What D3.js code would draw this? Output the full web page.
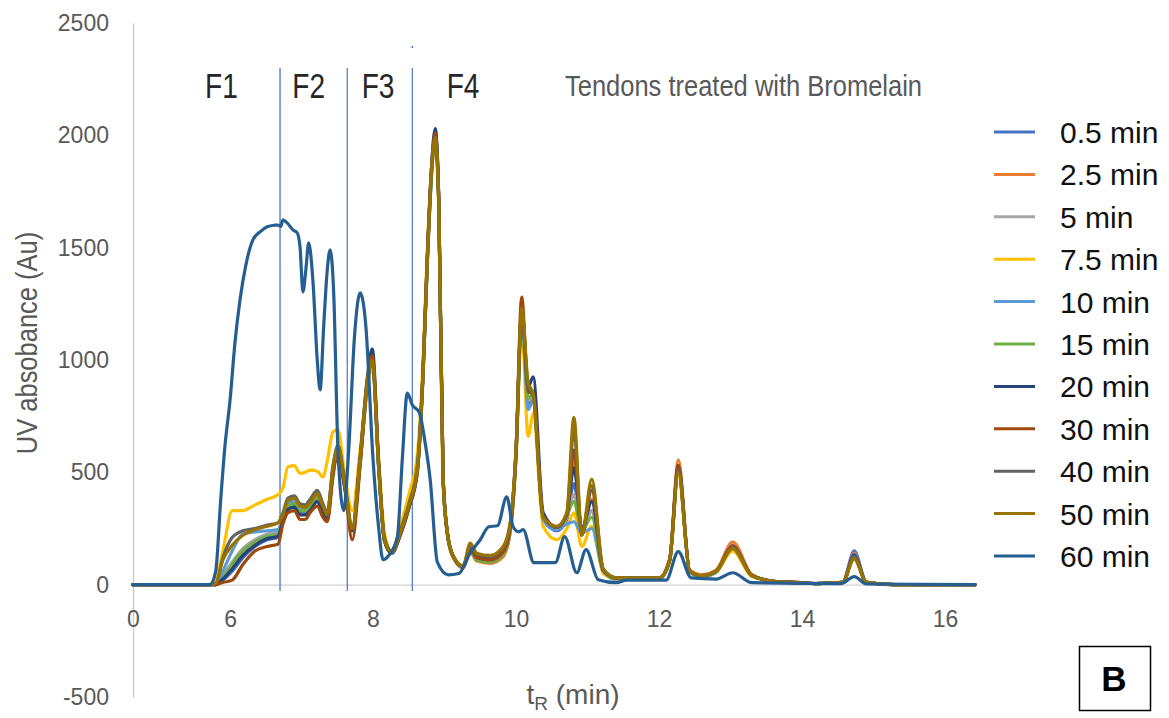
<!DOCTYPE html>
<html>
<head>
<meta charset="utf-8">
<script src="https://cdn.jsdelivr.net/npm/d3@7"></script>
<style>
    html, body { margin: 0; padding: 0; background: #fff; }
    svg { display: block; font-family: 'Liberation Sans', Arial, sans-serif; }
</style>
</head>
<body>
<svg id="chart" width="1169" height="718"></svg>
<script>
'use strict';

// retention time grid (min) shared by the 0.5 - 50 min runs
var tR = [4.64, 5.70, 5.80, 5.90, 6.03, 6.18, 6.35, 6.52, 6.67, 6.74,
    6.81, 6.90, 6.98, 7.05, 7.12, 7.22, 7.30, 7.36, 7.44, 7.51,
    7.60, 7.71, 7.82, 7.92, 7.99, 8.08, 8.16, 8.26, 8.38, 8.50,
    8.62, 8.70, 8.76, 8.82, 8.87, 8.92, 8.98, 9.04, 9.12, 9.26,
    9.36, 9.45, 9.64, 9.82, 9.92, 10.00, 10.08, 10.17, 10.24, 10.38,
    10.57, 10.71, 10.81, 10.92, 11.06, 11.22, 11.40, 12.00, 12.15, 12.27,
    12.43, 12.60, 12.80, 13.03, 13.30, 13.60, 13.85, 14.20, 14.57, 14.73,
    14.90, 15.30, 16.42];

var uv05 = [0, 0, 0, 20, 60, 120, 170, 200, 210, 290,
    340, 355, 320, 320, 340, 380, 320, 290, 500, 590,
    440, 240, 540, 880, 1000, 520, 195, 140, 220, 340,
    500, 930, 1430, 1830, 2000, 1700, 480, 230, 125, 75,
    150, 115, 100, 130, 240, 570, 1180, 800, 830, 290,
    240, 290, 450, 240, 330, 60, 25, 25, 110, 520,
    60, 40, 60, 175, 40, 15, 10, 5, 10, 150,
    12, 0, 0];

var uv25 = [0, 0, 0, 30, 80, 140, 180, 210, 220, 300,
    350, 365, 330, 330, 350, 385, 330, 300, 505, 600,
    445, 240, 545, 890, 1010, 520, 195, 140, 220, 340,
    500, 930, 1440, 1840, 2000, 1700, 480, 230, 125, 75,
    145, 105, 95, 125, 235, 570, 1200, 820, 840, 295,
    245, 300, 550, 240, 380, 65, 30, 30, 115, 555,
    65, 45, 65, 190, 45, 15, 12, 5, 10, 140,
    12, 0, 0];

var uv5 = [0, 0, 0, 40, 100, 160, 200, 225, 235, 310,
    370, 385, 350, 350, 375, 415, 355, 320, 520, 610,
    455, 250, 550, 895, 1000, 520, 200, 145, 225, 345,
    510, 940, 1450, 1840, 1990, 1700, 475, 228, 128, 82,
    155, 115, 105, 140, 250, 580, 1210, 820, 840, 295,
    250, 300, 400, 230, 330, 65, 28, 28, 110, 520,
    60, 40, 60, 170, 40, 15, 10, 5, 10, 130,
    10, 0, 0];

var uv75 = [0, 0, 20, 150, 330, 330, 355, 380, 400, 430,
    525, 530, 495, 500, 510, 505, 480, 550, 680, 690,
    500, 330, 600, 880, 960, 560, 230, 150, 260, 400,
    580, 1000, 1500, 1850, 1960, 1650, 450, 220, 120, 80,
    160, 125, 115, 150, 260, 560, 1150, 660, 760, 260,
    200, 250, 320, 170, 260, 50, 25, 25, 100, 490,
    55, 35, 55, 150, 35, 15, 10, 5, 10, 120,
    10, 0, 0];

var uv10 = [0, 0, 5, 60, 150, 225, 235, 240, 245, 300,
    360, 375, 345, 340, 360, 395, 340, 310, 510, 600,
    450, 245, 550, 890, 990, 510, 195, 140, 225, 345,
    510, 940, 1440, 1840, 1990, 1690, 470, 225, 125, 80,
    165, 120, 105, 140, 250, 580, 1200, 780, 820, 290,
    245, 270, 280, 230, 250, 60, 25, 25, 110, 510,
    55, 35, 55, 165, 40, 15, 10, 5, 10, 135,
    10, 0, 0];

var uv15 = [0, 0, 0, 30, 90, 150, 190, 215, 225, 295,
    350, 360, 330, 330, 350, 390, 330, 300, 505, 600,
    450, 245, 545, 890, 1000, 515, 195, 140, 222, 342,
    505, 935, 1440, 1840, 1990, 1700, 475, 228, 126, 80,
    150, 110, 100, 135, 245, 575, 1200, 830, 850, 300,
    255, 310, 370, 240, 300, 62, 28, 28, 110, 515,
    58, 38, 58, 168, 40, 15, 10, 5, 10, 128,
    10, 0, 0];

var uv20 = [0, 0, 0, 25, 70, 130, 175, 205, 215, 285,
    335, 345, 310, 310, 330, 370, 315, 290, 500, 590,
    440, 240, 560, 920, 1050, 540, 200, 140, 220, 340,
    510, 950, 1460, 1870, 2030, 1720, 490, 235, 128, 80,
    160, 125, 115, 150, 260, 590, 1220, 880, 925, 320,
    255, 310, 520, 250, 370, 65, 30, 30, 110, 530,
    60, 40, 60, 170, 40, 15, 10, 5, 10, 132,
    10, 0, 0];

var uv30 = [0, 0, 0, 10, 20, 90, 150, 170, 180, 270,
    320, 330, 290, 290, 320, 350, 300, 280, 480, 600,
    450, 200, 530, 900, 1020, 530, 200, 145, 225, 345,
    510, 950, 1460, 1860, 2010, 1710, 485, 232, 127, 80,
    155, 120, 110, 145, 255, 600, 1280, 860, 850, 305,
    255, 310, 600, 235, 420, 65, 30, 30, 115, 530,
    60, 40, 62, 170, 42, 15, 12, 5, 10, 125,
    10, 0, 0];

var uv40 = [0, 0, 5, 120, 210, 240, 250, 265, 275, 320,
    385, 395, 360, 355, 380, 420, 360, 320, 530, 620,
    470, 260, 570, 910, 990, 530, 210, 150, 240, 360,
    530, 960, 1460, 1860, 1980, 1690, 470, 225, 125, 80,
    175, 135, 125, 165, 270, 590, 1220, 880, 840, 300,
    255, 310, 690, 220, 440, 70, 30, 30, 110, 510,
    60, 40, 60, 165, 40, 15, 10, 5, 10, 125,
    10, 0, 0];

var uv50 = [0, 0, 5, 110, 175, 220, 245, 260, 275, 310,
    375, 385, 350, 345, 365, 405, 350, 315, 520, 610,
    460, 250, 560, 900, 1000, 520, 200, 145, 230, 350,
    520, 950, 1450, 1850, 1990, 1700, 480, 230, 130, 85,
    185, 140, 130, 170, 280, 600, 1230, 900, 850, 300,
    260, 320, 745, 220, 470, 70, 30, 30, 110, 500,
    60, 40, 60, 160, 40, 15, 10, 5, 10, 115,
    10, 0, 0];

// the 60 min run has its own shape, so its own grid
var tR60 = [4.64, 5.72, 5.80, 5.87, 5.93, 6.00, 6.07, 6.14, 6.22, 6.32,
    6.42, 6.52, 6.62, 6.67, 6.71, 6.74, 6.80, 6.88, 6.94, 6.98,
    7.02, 7.06, 7.10, 7.16, 7.22, 7.26, 7.31, 7.36, 7.40, 7.45,
    7.51, 7.59, 7.66, 7.74, 7.82, 7.90, 8.00, 8.08, 8.14, 8.22,
    8.34, 8.41, 8.48, 8.55, 8.65, 8.72, 8.80, 8.90, 9.05, 9.20,
    9.36, 9.50, 9.62, 9.74, 9.87, 9.96, 10.04, 10.10, 10.25, 10.55,
    10.68, 10.85, 10.98, 11.15, 11.40, 11.55, 12.10, 12.27, 12.45, 12.80,
    13.03, 13.30, 14.55, 14.73, 14.90, 16.42];

var uv60 = [0, 0, 60, 380, 620, 820, 1080, 1268, 1420, 1535,
    1570, 1593, 1600, 1601, 1595, 1624, 1610, 1579, 1566, 1500,
    1303, 1400, 1521, 1350, 1000, 867, 1150, 1400, 1490, 1300,
    600, 330, 600, 1100, 1299, 1150, 560, 250, 111, 130,
    210, 560, 853, 800, 765, 650, 467, 100, 44, 50,
    142, 200, 258, 262, 391, 258, 235, 245, 98, 98,
    214, 53, 156, 22, 9, 20, 20, 147, 30, 25,
    53, 9, 5, 36, 3, 0];

var seriesNames = ['0.5 min', '2.5 min', '5 min', '7.5 min', '10 min', '15 min',
    '20 min', '30 min', '40 min', '50 min', '60 min'];
var seriesColors = ['#4472C4', '#ED7D31', '#A5A5A5', '#FFC000', '#5B9BD5', '#70AD47',
    '#264478', '#9E480E', '#636363', '#997300', '#255E91'];

var yTickValues = [-500, 0, 500, 1000, 1500, 2000, 2500];
var xTickValues = [4.643, 6, 8, 10, 12, 14, 16];
var xTickLabels = ['0', '6', '8', '10', '12', '14', '16'];

var fractionBounds = [6.70, 7.64, 8.55];
var fractionNames = ['F1', 'F2', 'F3', 'F4'];
var fractionLabelT = [5.88, 7.10, 8.07, 9.26];

function pairs (times, values) {
    return times.map(function (t, i) {
        return { t: t, v: values[i] };
    });
}

function draw () {
    var svg = d3.select('#chart');

    var x = d3.scaleLinear().domain([4.643, 16.42]).range([133, 975]);
    var y = d3.scaleLinear().domain([-500, 2500]).range([697, 23]);

    var series = [
        pairs(tR, uv05), pairs(tR, uv25), pairs(tR, uv5), pairs(tR, uv75),
        pairs(tR, uv10), pairs(tR, uv15), pairs(tR, uv20), pairs(tR, uv30),
        pairs(tR, uv40), pairs(tR, uv50), pairs(tR60, uv60)
    ];

    // y axis
    var yAxis = svg.append('g')
        .attr('transform', 'translate(' + x(4.643) + ',0)')
        .call(d3.axisLeft(y).tickValues(yTickValues).tickSize(0).tickSizeOuter(0).tickPadding(24)
            .tickFormat(function (d) { return String(d); }));
    yAxis.select('.domain').attr('stroke', '#C8C8C8').attr('stroke-width', 1.3);
    yAxis.selectAll('text')
        .attr('fill', '#595959')
        .style('font-size', '23px')
        .style('font-family', "'Liberation Sans', Arial, sans-serif");

    // x axis sits on zero
    var xAxis = svg.append('g')
        .attr('transform', 'translate(0,' + y(0) + ')')
        .call(d3.axisBottom(x).tickValues(xTickValues).tickSize(0).tickSizeOuter(0).tickPadding(26)
            .tickFormat(function (d, i) { return xTickLabels[i]; }));
    xAxis.select('.domain').attr('stroke', '#D0D0D0').attr('stroke-width', 1.3);
    xAxis.selectAll('text')
        .attr('fill', '#595959')
        .style('font-size', '23px')
        .style('font-family', "'Liberation Sans', Arial, sans-serif");

    // fraction boundaries
    svg.append('g')
        .selectAll('line')
        .data(fractionBounds)
        .enter().append('line')
            .attr('x1', function (d) { return x(d); })
            .attr('x2', function (d) { return x(d); })
            .attr('y1', 68)
            .attr('y2', 591)
            .attr('stroke', '#4472C4')
            .attr('stroke-opacity', function (d, i) { return i === 0 ? 0.65 : 0.9; })
            .attr('stroke-width', function (d, i) { return i === 0 ? 2 : 1.3; });

    svg.append('circle')
        .attr('cx', x(fractionBounds[2]))
        .attr('cy', 47)
        .attr('r', 1)
        .attr('fill', '#4472C4');

    var line = d3.line()
        .x(function (d) { return x(d.t); })
        .y(function (d) { return y(d.v); })
        .curve(d3.curveMonotoneX);

    svg.append('g')
        .selectAll('path')
        .data(series)
        .enter().append('path')
            .attr('d', line)
            .attr('fill', 'none')
            .attr('stroke', function (d, i) { return seriesColors[i]; })
            .attr('stroke-width', 3.2)
            .attr('stroke-linejoin', 'round')
            .attr('stroke-linecap', 'round');

    // fraction labels
    svg.append('g')
        .selectAll('text')
        .data(fractionNames)
        .enter().append('text')
            .attr('transform', function (d, i) {
                return 'translate(' + x(fractionLabelT[i]) + ',98) scale(0.78,1)';
            })
            .attr('text-anchor', 'middle')
            .attr('fill', '#262626')
            .style('font-size', '36px')
            .text(function (d) { return d; });

    svg.append('text')
        .attr('transform', 'translate(565,96) scale(0.85,1)')
        .attr('fill', '#595959')
        .style('font-size', '30px')
        .text('Tendons treated with Bromelain');

    svg.append('text')
        .attr('transform', 'translate(37,343) rotate(-90) scale(0.85,1)')
        .attr('text-anchor', 'middle')
        .attr('fill', '#595959')
        .style('font-size', '30px')
        .text('UV absobance (Au)');

    var xTitle = svg.append('text')
        .attr('x', 573)
        .attr('y', 704)
        .attr('text-anchor', 'middle')
        .attr('fill', '#595959')
        .style('font-size', '28px');
    xTitle.append('tspan').text('t');
    xTitle.append('tspan').attr('dy', 6).style('font-size', '19px').text('R');
    xTitle.append('tspan').attr('dy', -6).text(' (min)');

    // legend
    var legend = svg.append('g')
        .selectAll('g')
        .data(seriesNames)
        .enter().append('g')
            .attr('transform', function (d, i) {
                return 'translate(994,' + (132 + i * 42.4) + ')';
            });

    legend.append('line')
        .attr('x1', 0)
        .attr('x2', 41)
        .attr('stroke', function (d, i) { return seriesColors[i]; })
        .attr('stroke-width', 3);

    legend.append('text')
        .attr('x', 66)
        .attr('y', 11)
        .attr('fill', '#111')
        .style('font-size', '30px')
        .text(function (d) { return d; });

    // panel tag
    svg.append('rect')
        .attr('x', 1079.5)
        .attr('y', 646.5)
        .attr('width', 71)
        .attr('height', 64)
        .attr('fill', '#fff')
        .attr('stroke', '#000')
        .attr('stroke-width', 1.5);

    svg.append('text')
        .attr('x', 1114)
        .attr('y', 691)
        .attr('text-anchor', 'middle')
        .attr('fill', '#000')
        .style('font-size', '35px')
        .style('font-weight', 'bold')
        .text('B');
}

draw();
</script>
</body>
</html>
